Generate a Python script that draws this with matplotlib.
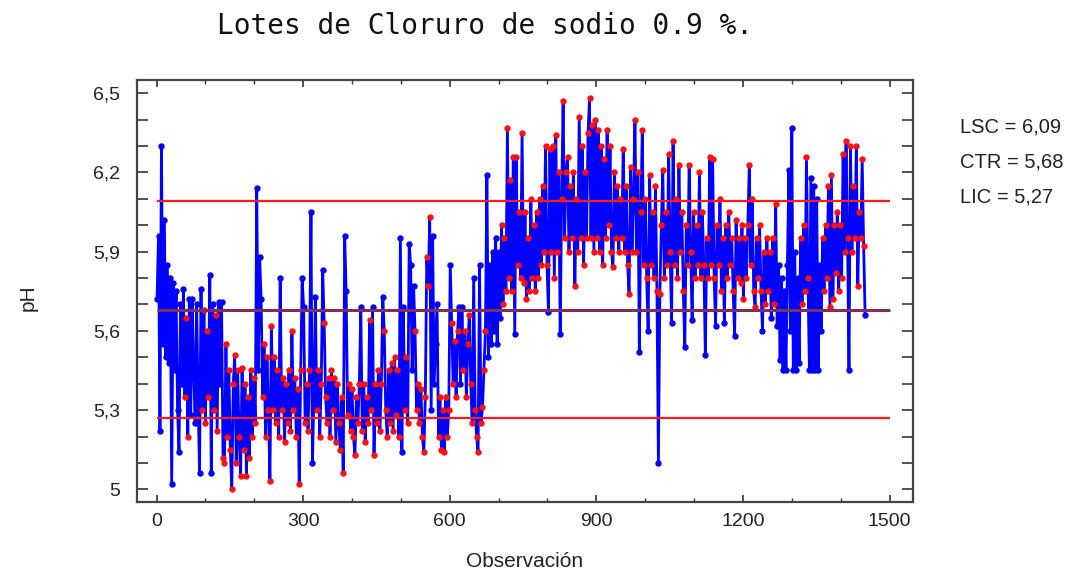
import numpy as np
import matplotlib
matplotlib.use("Agg")
import matplotlib.pyplot as plt
from matplotlib.ticker import FixedLocator, MultipleLocator, FuncFormatter

# ---- data: pH per batch, read every 3rd observation (obs 1, 4, 7, ...) ----
ph_0001_0298 = [
    5.72, 5.96, 5.22, 6.30, 5.55, 6.02, 5.50, 5.85, 5.48, 5.80,
    5.02, 5.78, 5.45, 5.75, 5.30, 5.14, 5.70, 5.40, 5.76, 5.35,
    5.65, 5.20, 5.72, 5.28, 5.72, 5.45, 5.25, 5.70, 5.35, 5.06,
    5.76, 5.30, 5.68, 5.25, 5.60, 5.35, 5.81, 5.06, 5.70, 5.30,
    5.66, 5.22, 5.71, 5.40, 5.71, 5.12, 5.10, 5.55, 5.20, 5.45,
    5.15, 5.00, 5.40, 5.51, 5.10, 5.45, 5.20, 5.05, 5.46, 5.15,
    5.40, 5.05, 5.35, 5.12, 5.45, 5.20, 5.42, 5.25, 6.14, 5.45,
    5.88, 5.72, 5.35, 5.55, 5.20, 5.50, 5.30, 5.03, 5.62, 5.30,
    5.50, 5.25, 5.45, 5.20, 5.80, 5.30, 5.42, 5.18, 5.40, 5.25,
    5.45, 5.22, 5.60, 5.30, 5.42, 5.20, 5.38, 5.02, 5.45, 5.80,
]
ph_0301_0598 = [
    5.69, 5.25, 5.40, 5.22, 5.45, 6.05, 5.10, 5.35, 5.73, 5.30,
    5.45, 5.20, 5.40, 5.83, 5.63, 5.35, 5.25, 5.42, 5.20, 5.45,
    5.30, 5.42, 5.18, 5.40, 5.25, 5.15, 5.35, 5.06, 5.96, 5.75,
    5.28, 5.40, 5.22, 5.38, 5.20, 5.13, 5.35, 5.25, 5.40, 5.69,
    5.22, 5.40, 5.18, 5.35, 5.25, 5.64, 5.30, 5.69, 5.13, 5.40,
    5.25, 5.45, 5.22, 5.40, 5.73, 5.60, 5.30, 5.20, 5.45, 5.25,
    5.48, 5.22, 5.50, 5.28, 5.45, 5.20, 5.95, 5.14, 5.69, 5.30,
    5.50, 5.25, 5.93, 5.85, 5.45, 5.77, 5.60, 5.30, 5.40, 5.25,
    5.38, 5.20, 5.14, 5.35, 5.88, 5.77, 6.03, 5.30, 5.96, 5.40,
    5.55, 5.70, 5.20, 5.35, 5.15, 5.30, 5.14, 5.35, 5.20, 5.30,
]
ph_0601_0898 = [
    5.85, 5.63, 5.40, 5.56, 5.35, 5.60, 5.69, 5.40, 5.69, 5.45,
    5.60, 5.35, 5.55, 5.66, 5.40, 5.25, 5.80, 5.30, 5.20, 5.14,
    5.85, 5.25, 5.31, 5.45, 5.60, 6.19, 5.50, 5.85, 5.55, 5.90,
    5.60, 5.95, 5.55, 5.90, 5.65, 6.00, 5.70, 5.95, 5.75, 6.37,
    5.80, 6.17, 5.75, 6.26, 5.59, 6.26, 5.85, 6.05, 5.80, 6.35,
    5.78, 6.05, 5.72, 5.95, 5.75, 6.10, 5.80, 6.00, 5.75, 6.05,
    5.80, 6.10, 5.85, 6.15, 5.90, 6.30, 5.85, 5.67, 6.29, 5.90,
    6.30, 5.80, 6.34, 5.90, 6.20, 5.59, 6.10, 6.47, 5.95, 6.20,
    6.26, 5.90, 6.15, 5.95, 6.20, 5.77, 6.10, 5.90, 6.41, 5.95,
    6.30, 5.85, 6.20, 5.95, 6.35, 6.48, 5.95, 6.38, 5.90, 6.40,
]
ph_0901_1198 = [
    5.95, 6.36, 5.90, 6.30, 5.85, 6.25, 5.95, 6.36, 6.00, 6.30,
    5.90, 5.84, 6.20, 5.95, 6.15, 5.90, 6.10, 5.95, 6.29, 5.90,
    6.15, 5.85, 5.74, 6.22, 5.90, 6.10, 6.40, 5.90, 6.20, 5.52,
    6.05, 6.36, 5.85, 6.10, 5.80, 5.60, 6.19, 5.85, 6.05, 5.80,
    6.15, 5.75, 5.10, 5.74, 6.00, 6.21, 5.80, 6.05, 5.85, 6.27,
    5.90, 5.63, 6.32, 5.85, 6.10, 5.80, 6.23, 5.90, 6.05, 5.75,
    5.54, 6.00, 5.85, 6.23, 5.90, 5.64, 6.05, 5.80, 6.00, 5.85,
    6.20, 5.80, 6.05, 5.85, 5.51, 5.95, 5.80, 6.26, 5.85, 6.25,
    5.80, 5.62, 6.00, 5.85, 6.10, 5.75, 5.95, 5.63, 6.00, 5.80,
    6.05, 5.85, 5.95, 5.75, 5.58, 6.02, 5.80, 5.95, 5.78, 6.00,
]
ph_1201_1450 = [
    5.72, 5.95, 5.80, 6.00, 6.23, 5.85, 6.10, 5.75, 5.69, 5.95,
    5.80, 6.00, 5.75, 5.60, 5.90, 5.70, 5.95, 5.75, 5.90, 5.65,
    5.95, 5.70, 6.08, 5.62, 5.85, 5.49, 5.80, 5.45, 5.75, 5.45,
    5.85, 6.21, 5.60, 6.37, 5.45, 5.90, 5.45, 5.80, 5.48, 5.95,
    5.70, 6.00, 5.75, 6.26, 5.80, 5.45, 6.18, 5.45, 6.15, 5.45,
    6.10, 5.45, 5.85, 5.60, 5.95, 5.75, 6.00, 5.80, 6.15, 5.69,
    6.19, 5.72, 6.00, 5.82, 6.05, 5.75, 6.00, 5.80, 6.27, 5.90,
    6.32, 5.95, 5.45, 6.30, 5.90, 6.15, 5.95, 6.30, 5.77, 6.05,
    5.95, 6.25, 5.92, 5.66,
]
obs_first = 1
obs_step = 3

LSC, CTR, LIC = 6.09, 5.68, 5.27
limit_labels = ["LSC = 6,09", "CTR = 5,68", "LIC = 5,27"]
limit_span = [0, 1500]
x_ticks = [0, 300, 600, 900, 1200, 1500]
y_ticks = [5.0, 5.3, 5.6, 5.9, 6.2, 6.5]
title = "Lotes de Cloruro de sodio 0.9 %."
x_label = "Observación"
y_label = "pH"

ph = np.array(ph_0001_0298 + ph_0301_0598 + ph_0601_0898 + ph_0901_1198 + ph_1201_1450)
obs = obs_first + obs_step * np.arange(len(ph))

# points belonging to runs on the same side of the centre line are flagged red
above = ph > CTR
run_len = np.zeros(len(ph), dtype=int)
start = 0
for i in range(1, len(ph) + 1):
    if i == len(ph) or above[i] != above[start]:
        run_len[start:i] = i - start
        start = i
flag = run_len >= 3

plt.rcParams['font.family'] = ['Liberation Sans', 'DejaVu Sans']

fig = plt.figure(figsize=(10.84, 5.76), dpi=100)
ax = fig.add_axes([137 / 1084, 1 - 502 / 576, 776 / 1084, 422 / 576])

ax.hlines([LSC, LIC], limit_span[0], limit_span[1], colors='#ff1a1a', lw=1.6, zorder=4)
ax.hlines([CTR], limit_span[0], limit_span[1], colors='#7e2f5c', lw=2.2, zorder=4)

ax.plot(obs, ph, color='#0000ff', lw=2.0, zorder=2)
ax.plot(obs[~flag], ph[~flag], 'o', color='#0000ff', ms=4.6, mec='none', zorder=3)
ax.plot(obs[flag], ph[flag], 'o', color='#ff1010', ms=4.6, mec='none', zorder=3)

ax.set_xlim(-40, 1548)
ax.set_ylim(4.952, 6.55)

ax.xaxis.set_major_locator(FixedLocator(x_ticks))
ax.xaxis.set_minor_locator(MultipleLocator(100))
ax.yaxis.set_major_locator(FixedLocator(y_ticks))
ax.yaxis.set_minor_locator(MultipleLocator(0.1))

def yfmt(v, pos):
    s = f"{v:.1f}".replace('.', ',')
    return s[:-2] if s.endswith(',0') else s

ax.yaxis.set_major_formatter(FuncFormatter(yfmt))
ax.xaxis.set_major_formatter(FuncFormatter(lambda v, p: f"{int(round(v))}"))

ax.tick_params(axis='x', which='major', direction='in', length=5, width=1.2,
               top=True, bottom=True, labelsize=14, pad=8, colors='#333333', labelcolor='#222222')
ax.tick_params(axis='x', which='minor', direction='in', length=3, width=1.0,
               top=True, bottom=True, colors='#333333')
ax.tick_params(axis='y', which='both', direction='in', length=8, width=1.2,
               left=True, right=True, labelsize=14, pad=12, colors='#333333', labelcolor='#222222')

for sp in ax.spines.values():
    sp.set_color('#444444')
    sp.set_linewidth(1.6)

ax.set_xlabel(x_label, fontsize=15, color='#222222', labelpad=16)
fig.text(28 / 1084, 1 - 298 / 576, y_label, rotation=90, fontsize=15,
         ha='center', va='center', color='#222222')

fig.text(485 / 1084, 1 - 26 / 576, title, fontsize=20, family='DejaVu Sans Mono',
         ha='center', va='center', color='#111111')

for k, lab in enumerate(limit_labels):
    fig.text(960 / 1084, 1 - (127 + 35 * k) / 576, lab, fontsize=14.5,
             ha='left', va='center', color='#222222')

fig.savefig("out.png", dpi=100)
